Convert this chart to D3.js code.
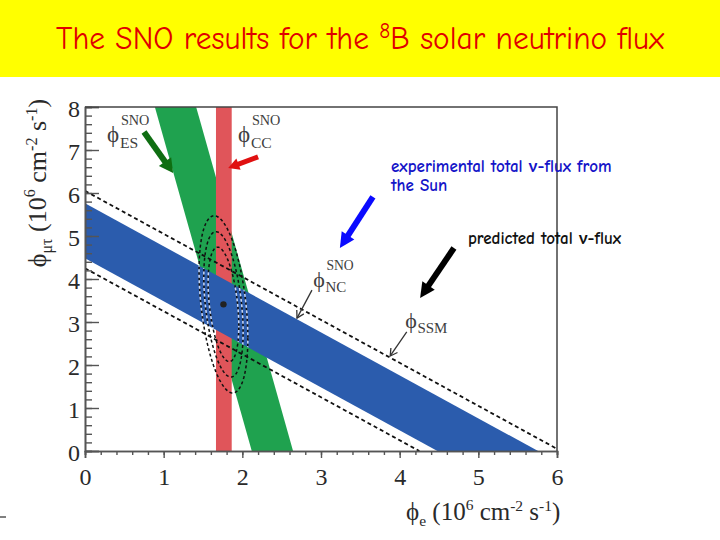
<!DOCTYPE html>
<html><head><meta charset="utf-8">
<script src="https://cdn.jsdelivr.net/npm/d3@7"></script>
<style>html,body{margin:0;padding:0;background:#fff;} svg{display:block}</style>
</head><body>
<svg id="chart" width="720" height="540"></svg>
<script>
// ---------------- data ----------------
const xTicks = [0, 1, 2, 3, 4, 5, 6];
const yTicks = [0, 1, 2, 3, 4, 5, 6, 7, 8];
const xDomain = [0, 6];
const yDomain = [0, 8];
const ccBand = [1.665, 1.865];   // phi_e range allowed by SNO CC
const esBand = [2.12, 2.645];    // phi_e + 0.154 phi_mutau (SNO ES)
const esSlope = 0.154;
const ncBand = [4.48, 5.76];     // phi_e + phi_mutau (SNO NC)
const ssmBand = [4.25, 6.05];    // phi_e + phi_mutau (SSM prediction)
const bestFit = [1.76, 3.41];
const contourRx = [0.195, 0.25, 0.31];
const contourRy = [1.33, 1.69, 2.06];
const contourRho = -0.38;

// ---------------- layout ----------------
const W = 720, H = 540;
const svg = d3.select('#chart');
const serif = "'Liberation Serif','Times New Roman','DejaVu Serif',serif";
const comic = "'Comic Sans MS','Comic Neue','Lato',sans-serif";
const PHI = 'ϕ';

svg.append('rect').attr('width', W).attr('height', H).attr('fill', '#fff');
svg.append('rect').attr('width', W).attr('height', 77).attr('fill', '#ffff00');

// title
const title = svg.append('text').attr('x', 360).attr('y', 49)
  .attr('text-anchor', 'middle').attr('fill', '#e00000').style('font-family', comic);
const t1 = title.append('tspan').text('The SNO results for the ');
const t2 = title.append('tspan').attr('dy', -9).text('8');
const t3 = title.append('tspan').attr('dy', 9).text('B solar neutrino flux');
function sizeTitle(s) {
  title.style('font-size', s + 'px');
  t2.style('font-size', (s * 0.68) + 'px').attr('dy', -s * 0.36);
  t3.attr('dy', s * 0.36);
}
sizeTitle(26);
let tw = title.node().getComputedTextLength();
sizeTitle(Math.min(32, 26 * 608 / tw));

const x = d3.scaleLinear().domain(xDomain).range([85, 557]);
const y = d3.scaleLinear().domain(yDomain).range([451, 107]);
const line = d3.line().x(d => x(d[0])).y(d => y(d[1]));

svg.append('clipPath').attr('id', 'plotclip').append('rect')
  .attr('x', x(0)).attr('y', y(8)).attr('width', x(6) - x(0)).attr('height', y(0) - y(8));

const plot = svg.append('g').attr('clip-path', 'url(#plotclip)');

// ES band (green)
const yTop = yDomain[1];
const esPoly = [[esBand[0], 0], [esBand[1], 0], [esBand[1] - esSlope * yTop, yTop], [esBand[0] - esSlope * yTop, yTop]];
plot.append('path').attr('d', line(esPoly) + 'Z').attr('fill', '#1fa24f');

// CC band (red)
const ccPoly = [[ccBand[0], 0], [ccBand[1], 0], [ccBand[1], yTop], [ccBand[0], yTop]];
plot.append('path').attr('d', line(ccPoly) + 'Z').attr('fill', '#e0555a');

// NC band (blue)
const ncPoly = [[0, ncBand[0]], [0, ncBand[1]], [ncBand[1], 0], [ncBand[0], 0]];
plot.append('path').attr('d', line(ncPoly) + 'Z').attr('fill', '#2b5cad');
svg.append('clipPath').attr('id', 'ncclip').append('path').attr('d', line(ncPoly) + 'Z');

// SSM dashed lines
ssmBand.forEach(a => {
  plot.append('path').attr('d', line([[0, a], [a, 0]]))
    .attr('fill', 'none').attr('stroke', '#111').attr('stroke-width', 1.8)
    .attr('stroke-dasharray', '4,3');
});

// confidence contours
function ellipsePts(rx, ry, rho) {
  return d3.range(0, 361, 3).map(a => {
    const t = a * Math.PI / 180;
    return [bestFit[0] + rx * Math.cos(t),
            bestFit[1] + ry * (rho * Math.cos(t) + Math.sqrt(1 - rho * rho) * Math.sin(t))];
  });
}
contourRx.forEach((rx, i) => {
  const d = line(ellipsePts(rx, contourRy[i], contourRho)) + 'Z';
  plot.append('path').attr('d', d).attr('fill', 'none').attr('stroke', '#111')
    .attr('stroke-width', 1.5).attr('stroke-dasharray', '3,2.5');
  plot.append('path').attr('d', d).attr('fill', 'none').attr('stroke', '#c9d6f2')
    .attr('clip-path', 'url(#ncclip)')
    .attr('stroke-width', 1.5).attr('stroke-dasharray', '3,2.5').attr('stroke-dashoffset', 2.7);
});
plot.append('circle').attr('cx', x(bestFit[0])).attr('cy', y(bestFit[1])).attr('r', 3.2).attr('fill', '#222');

// ---------------- axes ----------------
const minorY = d3.range(0, 8.001, 0.2);
const minorX = d3.range(0, 6.001, 0.2);
const axColor = '#555';

const gy1 = svg.append('g').attr('transform', `translate(${x(0)},0)`)
  .call(d3.axisRight(y).tickValues(minorY).tickSize(7).tickFormat(''));
const gy2 = svg.append('g').attr('transform', `translate(${x(0)},0)`)
  .call(d3.axisRight(y).tickValues(yTicks).tickSize(14).tickFormat(''));
const gyl = svg.append('g').attr('transform', `translate(${x(0)},0)`)
  .call(d3.axisLeft(y).tickValues(yTicks).tickSize(0).tickPadding(5).tickFormat(d3.format('d')));
gyl.select('.domain').remove();

const gx1 = svg.append('g').attr('transform', `translate(0,${y(0)})`)
  .call(d3.axisBottom(x).tickValues(minorX).tickSize(4).tickFormat(''));
const gx2 = svg.append('g').attr('transform', `translate(0,${y(0)})`)
  .call(d3.axisBottom(x).tickValues(xTicks).tickSize(7).tickPadding(10).tickFormat(d3.format('d')));

[gy1, gy2, gx1, gx2].forEach(g => {
  g.selectAll('line').attr('stroke', axColor).attr('stroke-width', 1.4);
  g.select('.domain').attr('stroke', axColor).attr('stroke-width', 1.6);
});
[gyl, gx2].forEach(g => {
  g.selectAll('text').style('font-family', serif).style('font-size', '24px').attr('fill', '#2a2a2a');
});
gyl.selectAll('text').attr('dy', '0.38em');

// frame top & right
svg.append('path').attr('d', `M${x(0)},${y(8)}H${x(6)}V${y(0)}`)
  .attr('fill', 'none').attr('stroke', '#444').attr('stroke-width', 1.5);

// ---------------- axis titles ----------------
function fluxLabel(sel, sub, s) {
  sel.style('font-family', serif).style('font-size', s + 'px').attr('fill', '#2a2a2a');
  sel.append('tspan').text(PHI);
  sel.append('tspan').attr('dy', s * 0.22).style('font-size', (s * 0.62) + 'px').text(sub);
  sel.append('tspan').attr('dy', -s * 0.22).text(' (10');
  sel.append('tspan').attr('dy', -s * 0.42).style('font-size', (s * 0.62) + 'px').text('6');
  sel.append('tspan').attr('dy', s * 0.42).text(' cm');
  sel.append('tspan').attr('dy', -s * 0.36).style('font-size', (s * 0.62) + 'px').text('-2');
  sel.append('tspan').attr('dy', s * 0.36).text(' s');
  sel.append('tspan').attr('dy', -s * 0.36).style('font-size', (s * 0.62) + 'px').text('-1');
  sel.append('tspan').attr('dy', s * 0.36).text(')');
}
const yl = svg.append('text').attr('transform', 'translate(46,183) rotate(-90)').attr('text-anchor', 'middle');
fluxLabel(yl, 'μτ', 26);
const xl = svg.append('text').attr('x', 406).attr('y', 520);
fluxLabel(xl, 'e', 25);

// ---------------- in-plot labels ----------------
function sym(px, py, sub, sup, s) {
  const g = svg.append('g').style('font-family', serif).attr('fill', '#404040');
  g.append('text').attr('x', x(px)).attr('y', y(py)).style('font-size', s + 'px').text(PHI);
  const sx = x(px) + s * 0.56;
  g.append('text').attr('x', sx).attr('y', y(py) + s * 0.26).style('font-size', (s * 0.68) + 'px').text(sub);
  if (sup) g.append('text').attr('x', sx + 1).attr('y', y(py) - s * 0.74).style('font-size', (s * 0.62) + 'px').text(sup);
}
sym(0.28, 7.18, 'ES', 'SNO', 23);
sym(1.945, 7.18, 'CC', 'SNO', 23);
sym(2.9, 3.82, 'NC', 'SNO', 22);
sym(4.07, 2.87, 'SSM', null, 22);

// ---------------- arrows ----------------
function arrow(p0, p1, color, w, hl, hw, open) {
  const x0 = x(p0[0]), y0 = y(p0[1]), x1 = x(p1[0]), y1 = y(p1[1]);
  const dx = x1 - x0, dy = y1 - y0, L = Math.hypot(dx, dy), ux = dx / L, uy = dy / L;
  const bx = x1 - ux * hl, by = y1 - uy * hl;
  const g = svg.append('g');
  if (open) {
    g.append('line').attr('x1', x0).attr('y1', y0).attr('x2', x1).attr('y2', y1)
      .attr('stroke', color).attr('stroke-width', w);
    g.append('path').attr('d', `M${bx - uy * hw / 2},${by + ux * hw / 2}L${x1},${y1}L${bx + uy * hw / 2},${by - ux * hw / 2}`)
      .attr('fill', 'none').attr('stroke', color).attr('stroke-width', w);
  } else {
    g.append('line').attr('x1', x0).attr('y1', y0).attr('x2', bx + ux * 2).attr('y2', by + uy * 2)
      .attr('stroke', color).attr('stroke-width', w);
    g.append('path').attr('d', `M${x1},${y1}L${bx - uy * hw / 2},${by + ux * hw / 2}L${bx + uy * hw / 2},${by - ux * hw / 2}Z`)
      .attr('fill', color);
  }
}
arrow([0.75, 7.42], [1.12, 6.465], '#0f6e12', 6, 14, 15, false);
arrow([2.20, 6.84], [1.82, 6.58], '#e01010', 5, 11, 12, false);
arrow([3.66, 5.91], [3.24, 4.72], '#0a0aff', 6, 15, 15, false);
arrow([4.69, 4.72], [4.26, 3.56], '#000', 6, 15, 15, false);
arrow([2.885, 3.74], [2.695, 3.09], '#333', 1.3, 7, 8, true);
arrow([4.09, 2.77], [3.88, 2.21], '#333', 1.3, 7, 8, true);

// ---------------- slide annotations ----------------
const ann = svg.append('g').style('font-family', comic).style('font-weight', 'bold');
const a1 = ann.append('text').attr('x', 391).attr('y', 172).attr('fill', '#1414c8').text('experimental total ν-flux from');
const a2 = ann.append('text').attr('x', 391).attr('y', 191).attr('fill', '#1414c8').text('the Sun');
const a3 = ann.append('text').attr('x', 468).attr('y', 244).attr('fill', '#111').text('predicted total ν-flux');
ann.style('font-size', '15px');
const aw = a1.node().getComputedTextLength();
ann.style('font-size', Math.min(17, 15 * 270 / aw) + 'px');

// small stray mark bottom-left
svg.append('line').attr('x1', 0).attr('x2', 6).attr('y1', 517).attr('y2', 517).attr('stroke', '#000').attr('stroke-width', 1);
</script>
</body></html>
